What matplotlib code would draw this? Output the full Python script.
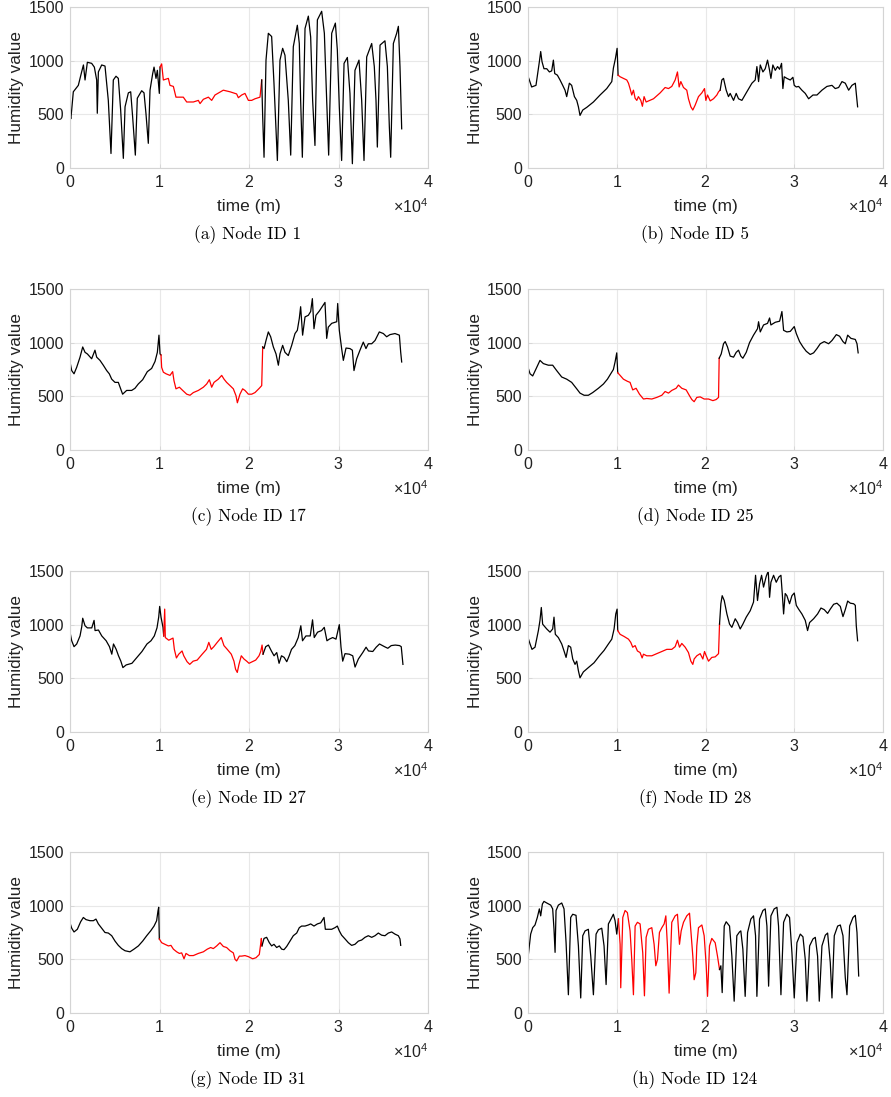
import matplotlib
matplotlib.use("Agg")
import matplotlib.pyplot as plt
import numpy as np

plt.rcParams['font.family'] = ['Liberation Sans', 'DejaVu Sans']
plt.rcParams['mathtext.fontset'] = 'custom'
plt.rcParams['mathtext.rm'] = 'Liberation Sans'

# humidity traces per node, time in minutes
t1 = [0,100,370,930,1300,1500,1680,1940,2420,2720, 2980,3050,3170,3540,3910,4280,4580,4840,5140,5400,
      5660,5960,6150,6520,6780,7000,7300,7520,8010,8270, 8490,8750,8940,9240,9390,9610,9760,9980,
      10060,10240,10430,10990,11170,11550,11840,12660,13040,13780, 14340,14530,14900,15460,15830,16200,17130,17880,18620,18810,
      19180,19550,19930,20300,20670,21230,21420,
      21530,21680,21900,22160,22530,22790,23170,23460,23760,24020, 24390,24660,24950,25400,25620,25770,25960,26260,26630,26890,
      27110,27370,27640,28120,28420,28680,28900,29240,29650,29870, 30090,30350,30620,30990,31280,31550,31840,32290,32590,32850,
      33150,33710,34000,34190,34340,34640,35190,35460,35680,35830, 36130,36500,36690,36870,37060]
h1 = [480,460,710,770,895,960,820,985,975,940, 820,510,895,960,950,630,135,820,855,835,
      540,90,570,700,710,475,120,650,720,700, 505,230,725,880,940,835,910,695,
      940,970,820,835,770,760,660,660,615,615, 630,600,640,660,630,680,725,710,690,655,
      680,695,630,630,645,660,820,
      475,100,1005,1255,1225,790,70,1005,1115,1050, 630,120,1130,1330,1160,630,100,1300,1415,1220,
      630,210,1380,1460,1255,630,120,1255,1350,1100, 570,70,975,1030,695,40,910,1005,630,70,
      1035,1160,945,630,195,1145,1185,945,385,100, 1160,1255,1320,945,365]

t5 = [0,150,410,900,1280,1430,1580,1800,2110,2410, 2670,2860,3010,3310,3610,3910,4170,4360,4660,4920,
      5230,5490,5680,5860,6170,6620,7370,8120,8870,9440, 9620,9850,10040,
      10150,10380,10750,11130,11320,11500,11690,11880,12070,12260, 12440,12710,12890,13080,13310,14140,14890,15450,15830,16200,
      16580,16840,17030,17220,17520,17890,18080,18350,18570,18830, 19210,19590,19890,20040,20230,20530,20900,21280,21470,21650,
      21840,22030,22330,22590,22780,23160,23460,23720,24100,24660, 25230,25600,25790,25980,26170,26470,26730,26990,27220,27370,
      27590,27860,28120,28350,28570,28720,28870,29170,29550,29850, 30000,30230,30490,30860,31240,31620,32110,32560,33120,33680,
      34250,34620,35000,35380,35750,36130,36500,36880,36990,37140]
h5 = [855,820,755,770,990,1085,990,925,925,895, 905,1005,880,865,820,770,725,665,790,770,
      665,630,570,490,540,565,615,680,740,805, 930,1020,1115,
      865,850,835,820,790,740,680,725,650,630, 665,630,575,665,615,645,700,750,740,760,
      820,895,755,805,750,725,645,570,540,585, 665,700,740,630,680,625,645,680,710,725,
      820,835,725,665,695,630,695,645,630,710, 790,820,945,805,960,895,925,1005,910,835,
      960,910,945,920,975,740,850,835,820,845, 770,755,760,725,695,645,680,680,725,760,
      770,740,750,805,790,725,770,790,695,570]

t17 = [0,190,450,745,1120,1420,1680,1940,2420,2790, 2980,3350,3720,4100,4390,4660,5030,5400,5660,5880,
       6330,6890,7260,7630,8120,8640,9120,9500,9760,9940, 10060,
       10170,10240,10430,10730,11170,11470,11620,11840,12220,12590, 13040,13410,13780,14340,14900,15270,15570,15830,16090,16570,
       16950,17210,17500,17880,18250,18550,18700,18990,19290,19550, 19930,20300,20670,21150,21420,21530,
       21680,21900,22160,22420,22720,23020,23280,23460,23760,24020, 24390,24770,25140,25400,25620,25770,25990,26260,26630,26890,
       27080,27260,27480,27860,28490,28680,28860,29240,29800,29910, 30090,30350,30540,30840,31280,31550,31730,32030,32400,32770,
       33070,33330,33710,34080,34560,35010,35380,35750,36310,36800, 36950,37060]
h17 = [820,740,710,770,865,960,910,895,850,930, 865,835,790,740,710,660,630,630,570,520,
       555,555,575,615,655,730,760,825,910,1070, 895,
       885,770,725,710,695,730,645,570,585,555, 520,510,535,555,585,615,655,585,630,660,
       695,660,630,600,570,505,440,520,570,555, 520,520,535,575,600,960,
       945,1020,1100,1055,960,895,790,895,975,910, 880,975,1085,1115,1225,1335,1070,1240,1255,1290,
       1410,1130,1255,1295,1375,1040,1145,1180,1195,1365, 1115,945,835,950,945,930,740,850,930,1005,
       945,990,990,1020,1100,1085,1055,1075,1085,1070, 910,820]

t25 = [0,230,530,900,1350,1730,2290,2780,3230,3800, 4360,4920,5490,5860,6320,6800,7290,7930,8500,8950,
       9320,9620,9810,10000,10110,
       10380,10750,11200,11500,11800,12180,12560,13010,13380,13950, 14510,15080,15450,15830,16200,16690,16950,17330,17820,18200,
       18460,18720,19020,19400,19850,20340,20830,21200,21470,21540,
       21770,22030,22220,22480,22780,23160,23460,23720,23980,24210, 24590,24960,25410,25860,25980,26170,26540,26990,27220,27370,
       27860,28350,28610,28800,29170,29550,30000,30230,30600,30980, 31350,31800,32180,32560,32930,33380,33870,34250,34740,35110,
       35490,35750,36020,36390,36880,37070,37200]
h25 = [770,710,690,755,835,805,790,790,740,680, 660,630,570,530,510,510,535,575,615,660,
       710,750,820,905,720,
       695,660,640,630,560,575,520,475,480,475, 490,510,545,530,555,575,605,575,560,505,
       470,450,490,495,475,475,460,470,490,855,
       895,990,1010,960,875,865,910,930,875,855, 910,1000,1070,1130,1195,1100,1165,1180,1230,1165,
       1190,1200,1290,1115,1100,1105,1150,1085,1010,960, 920,890,905,945,990,1010,990,1020,1075,1060,
       1010,990,1070,1040,1030,990,905]

t27 = [0,190,450,750,1120,1310,1420,1680,1940,2430, 2690,2800,3180,3550,4040,4410,4670,4860,5160,5420,
       5680,5910,6280,6920,7480,8040,8600,9050,9420,9720, 9910,10020,10170,10390,
       10470,10580,10650,11030,11510,11660,11890,12150,12520,12710, 13080,13380,13760,14210,14770,15250,15510,15780,16070,16450,
       16900,17200,17570,18020,18320,18500,18690,18880,19140,19440, 19740,20000,20370,20750,21120,21310,21460,21570,
       21870,22170,22500,22800,23100,23360,23630,23930,24220,24490, 24750,25120,25500,25790,25980,26360,26840,27100,27290,27660,
       28110,28410,28710,28970,29350,29720,30090,30280,30470,30730, 31210,31590,31850,32220,32710,33080,33350,33830,34210,34580,
       35140,35510,35890,36340,36820,37010,37200]
h27 = [930,850,795,820,895,980,1060,990,970,970, 1040,945,950,895,850,795,725,820,770,710,
       660,600,625,640,695,750,820,850,895,970, 1070,1170,1070,975,
       895,1145,880,855,875,770,690,725,755,710, 655,630,660,670,725,770,835,770,795,835,
       880,805,770,725,660,585,555,630,710,680, 660,640,655,670,710,750,810,725,
       795,810,755,710,740,640,710,695,655,710, 770,805,880,990,850,895,895,1045,880,930,
       945,975,850,865,880,865,1000,790,660,730, 725,710,605,680,740,790,755,750,790,820,
       795,780,805,810,805,795,630]

t28 = [0,230,450,790,1170,1350,1500,1650,1800,2110, 2480,2780,2930,3080,3420,3800,4060,4290,4550,4810,
       5040,5300,5490,5680,5860,6240,6800,7440,8050,8570, 9060,9440,9700,9890,10040,10110,
       10380,10830,11320,11580,11800,12070,12330,12630,12860,13010, 13380,13950,14510,15080,15640,16200,16580,16840,17070,17330,
       17710,18080,18350,18570,18720,19020,19400,19700,19890,20080, 20340,20710,21090,21470,21580,
       21730,21880,22110,22410,22710,22970,23350,23610,23910,24210, 24590,25040,25410,25640,25860,26090,26320,26540,26840,27070,
       27220,27370,27670,27970,28270,28500,28650,28800,28980,29170, 29470,29740,30000,30230,30490,30860,31240,31500,31730,32180,
       32630,33010,33380,33760,34060,34440,34810,35190,35490,35750, 36020,36320,36690,36880,36990,37140]
h28 = [880,820,770,790,945,1040,1160,1005,990,960, 930,960,1070,910,880,820,755,695,805,790,
       680,630,660,570,505,560,600,645,710,760, 820,865,960,1100,1145,945,
       910,890,865,835,790,805,755,740,690,725, 710,710,730,750,770,770,795,855,790,825,
       790,740,660,630,680,710,730,680,750,710, 660,695,700,730,1005,
       1195,1270,1225,1100,1005,975,1055,1020,960,1005, 1070,1130,1210,1460,1225,1380,1460,1350,1450,1500,
       1255,1395,1460,1395,1445,1460,1290,1100,1290,1270, 1195,1270,1295,1180,1145,1100,1040,945,1020,1055,
       1100,1155,1140,1105,1145,1190,1200,1170,1075,1140, 1220,1200,1195,1180,990,850]

t31 = [0,190,450,820,1190,1490,1790,2230,2610,2900, 3170,3540,3910,4280,4660,5030,5400,5770,6150,6700,
       7150,7640,8120,8570,9010,9390,9680,9830,9910,9980,
       10240,10610,10990,11280,11550,11920,12220,12480,12740,12960, 13330,13780,14340,14900,15340,15720,16010,16390,16760,17130,
       17500,17880,18250,18440,18620,18920,19180,19550,19930,20410, 20780,21150,21300,21380,21450,
       21680,21970,22270,22530,22790,23090,23390,23650,23910,24210, 24580,24950,25330,25620,25880,26260,26630,26890,27260,27640,
       28010,28380,28530,28860,29240,29610,29870,30090,30350,30730, 31100,31470,31840,32220,32590,32960,33330,33710,34080,34450,
       34820,35190,35570,35940,36310,36690,36870,36950]
h31 = [840,790,755,780,850,890,870,860,860,875, 830,790,750,745,720,670,630,600,580,570,
       595,625,670,720,765,810,860,950,985,690,
       655,640,625,630,595,570,555,560,505,555, 535,535,555,570,595,610,600,625,655,620,
       610,580,560,500,485,530,530,535,525,505, 515,545,640,695,625,
       695,705,655,625,640,610,625,595,590,620, 670,720,745,795,810,810,820,830,810,830,
       840,890,780,780,780,795,810,765,725,690, 655,630,640,670,680,705,720,705,720,745,
       725,720,745,755,735,720,690,630]

t124 = [0,110,300,530,790,1050,1280,1430,1620,1800, 2110,2560,2780,2930,3050,3160,3420,3800,4060,4290,
        4550,4810,5040,5410,5680,5940,6170,6430,6800,7070, 7370,7670,7930,8310,8570,8800,9060,9320,9620,9810,
        10000,
        10190,10380,10450,10680,10940,11200,11500,11690,11880,12070, 12330,12630,12930,13120,13310,13570,13950,14210,14400,14590,
        14810,15080,15340,15530,15710,15900,16200,16580,16840,17070, 17260,17520,17890,18200,18380,18570,18720,18910,19020,19210,
        19590,19850,20080,20230,20450,20710,21090,21350,21580,
        21730,21880,22110,22330,22710,22970,23230,23530,23830,23980, 24210,24470,24740,25110,25410,25640,25790,26090,26470,26730,
        26920,27110,27370,27740,28050,28230,28500,28800,29170,29470, 29740,30000,30300,30680,30980,31240,31430,31730,32110,32370,
        32630,32820,33120,33500,33760,34060,34250,34510,34890,35190, 35490,35750,35940,36240,36620,36880,37070,37260]
h124 = [515,595,735,795,820,890,970,905,1015,1040, 1025,1005,970,780,565,955,1005,1025,970,655,
        170,890,920,910,625,140,720,765,780,530, 170,735,775,790,625,265,830,870,920,860,
        735,
        875,640,235,890,955,935,765,500,170,810, 845,830,560,160,705,780,795,640,440,500,
        750,795,830,905,625,185,845,905,920,640, 765,845,905,930,735,530,310,375,625,795,
        820,720,440,155,625,695,655,530,405,
        440,190,810,850,810,530,110,720,755,765, 595,155,750,875,905,720,155,875,955,970,
        810,250,905,970,985,810,170,845,920,890, 560,140,655,735,710,500,110,625,690,705,
        530,110,625,725,745,470,140,720,810,820, 720,330,170,810,890,910,750,345]

times = [t1, t5, t17, t25, t27, t28, t31, t124]
humid = [h1, h5, h17, h25, h27, h28, h31, h124]
nodeIds = [1, 5, 17, 25, 27, 28, 31, 124]
letters = ["a", "b", "c", "d", "e", "f", "g", "h"]
# time window highlighted in red for each node
redStart = [10000, 10100, 10100, 10100, 10450, 10100, 9970, 10100]
redEnd = [21450, 21700, 21550, 21550, 21600, 21600, 21500, 21600]

W, H = 891, 1097
lefts = [70, 528]
widths = [358, 355]
tops = [7, 289, 571, 852]
axh = 161
capx = [248, 695]
txtcol = "#222222"

def DrawNode(ax, t, h, start, end):
  t = np.array(t)
  h = np.array(h)
  i0 = np.searchsorted(t, start)
  i1 = np.searchsorted(t, end, side="right") - 1
  ax.plot(t[:i0+1], h[:i0+1], color="black", lw=0.9)
  ax.plot(t[i0:i1+1], h[i0:i1+1], color="red", lw=0.9)
  ax.plot(t[i1:], h[i1:], color="black", lw=0.9)

fig = plt.figure(figsize=(W/100., H/100.), dpi=100)

for k in range(8):
  row, col = k // 2, k % 2
  x0 = lefts[col] / W
  y0 = 1 - (tops[row] + axh) / H
  ax = fig.add_axes([x0, y0, widths[col] / W, axh / H])
  DrawNode(ax, times[k], humid[k], redStart[k], redEnd[k])
  ax.set_xlim(0, 40000)
  ax.set_ylim(0, 1500)
  ax.set_xticks([0, 10000, 20000, 30000, 40000])
  ax.set_yticks([0, 500, 1000, 1500])
  ax.ticklabel_format(axis="x", style="sci", scilimits=(4, 4), useMathText=True)
  ax.grid(True, color="#e8e8e8", lw=0.8)
  ax.set_axisbelow(True)
  for s in ax.spines.values():
    s.set_color("#d4d4d4")
    s.set_linewidth(0.8)
  ax.tick_params(direction="in", length=3, width=0.6, color="#d4d4d4",
                 labelsize=11.5, labelcolor=txtcol, pad=4.5)
  ax.tick_params(axis="y", pad=4)
  ax.xaxis.get_offset_text().set_fontsize(11.5)
  ax.xaxis.get_offset_text().set_color(txtcol)
  ax.xaxis.OFFSETTEXTPAD = 5
  ax.set_xlabel("time (m)", fontsize=12.5, color=txtcol)
  ax.xaxis.set_label_coords(0.5, -0.195)
  ax.set_ylabel("Humidity value", fontsize=12.3, color=txtcol)
  ax.yaxis.set_label_coords(-0.128, 0.5)
  fig.text(capx[col] / W, 1 - (tops[row] + axh + 67) / H,
           "(%s) Node ID %d" % (letters[k], nodeIds[k]),
           family="cmr10", fontsize=12.5, ha="center", va="center")

plt.savefig("out.png", dpi=100)
